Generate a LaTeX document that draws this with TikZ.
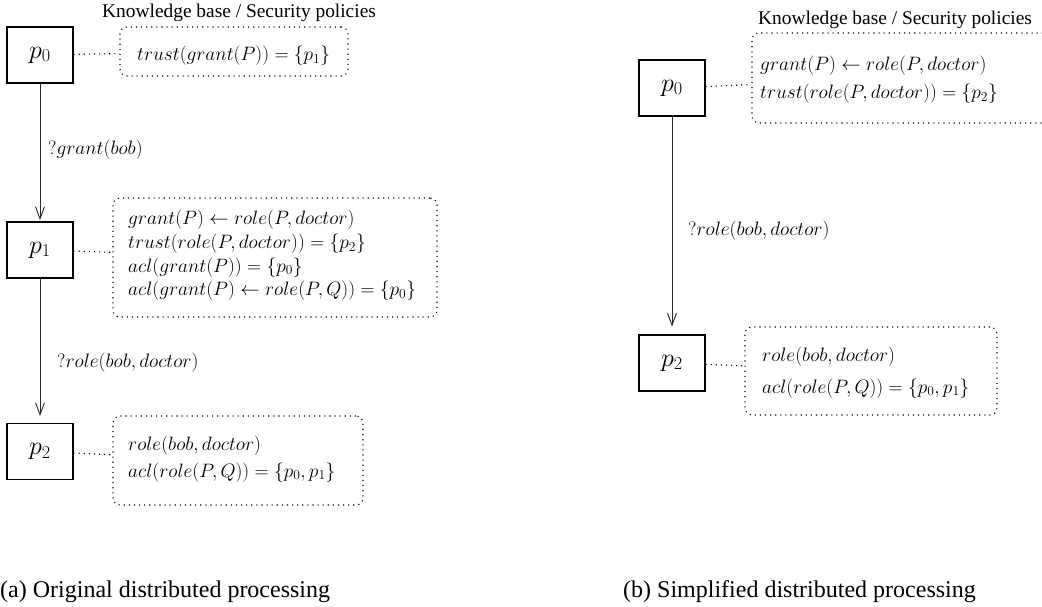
\RequirePackage{fix-cm}
\documentclass[tikz,border=0pt]{standalone}
\usepackage{fontspec}
\newfontfamily\tnr{Liberation Serif}
\usetikzlibrary{arrows.meta}
\begin{document}
\begin{tikzpicture}[x=1pt,y=-1pt,
  proc/.style={draw, line width=1.1pt, minimum width=66pt, minimum height=56pt, inner sep=0pt, font=\fontsize{26}{30}\selectfont},
  kb/.style={draw, dash pattern=on 1.1pt off 4pt, line width=1.1pt, rounded corners=7pt, inner sep=0pt},
  link/.style={dash pattern=on 1.1pt off 4pt, line width=1.1pt},
  flow/.style={-{Straight Barb[length=12pt,width=9pt]}, line width=0.9pt, black!85},
  mtext/.style={anchor=base west, inner sep=0pt, font=\fontsize{19.4}{23}\selectfont},
  ttext/.style={anchor=base west, inner sep=0pt, font=\tnr\fontsize{19.4}{23}\selectfont},
  captext/.style={anchor=base west, inner sep=0pt, font=\tnr\fontsize{24}{28}\selectfont}]
\useasboundingbox (0,0) rectangle (1042,607);
\clip (0,0) rectangle (1042,607);

% ---------------- left panel ----------------
\node[ttext] (kbtitleA) at (102,18) {Knowledge base / Security policies};

\node[proc] (p0a) at (40,55) {$p_0$};
\node[proc] (p1a) at (40,250) {$p_1$};
\node[proc] (p2a) at (40,451.5) {$p_2$};

\node[kb, minimum width=228pt, minimum height=49pt] (k0a) at (234,51.5) {};
\node[kb, minimum width=324pt, minimum height=119pt] (k1a) at (275,257.5) {};
\node[kb, minimum width=250pt, minimum height=89pt] (k2a) at (238,460.5) {};

\node[mtext] (t0a) at (137,61) {$trust(grant(P)) = \{p_1\}$};
\node[mtext] (t1a) at (128,225) {$grant(P) \leftarrow role(P, doctor)$};
\node[mtext] (t2a) at (128,248.5) {$trust(role(P, doctor)) = \{p_2\}$};
\node[mtext] (t3a) at (128,272) {$acl(grant(P)) = \{p_0\}$};
\node[mtext] (t4a) at (128,295.5) {$acl(grant(P) \leftarrow role(P, Q)) = \{p_0\}$};
\node[mtext] (t5a) at (128,450) {$role(bob, doctor)$};
\node[mtext] (t6a) at (128,477) {$acl(role(P, Q)) = \{p_0, p_1\}$};

\draw[link] (p0a) -- (k0a);
\draw[link] (p1a) -- (k1a);
\draw[link] (p2a) -- (k2a);

\draw[flow, shorten >=1.5pt] (p0a.south) -- (p1a.north);
\draw[flow, shorten >=7pt] (p1a.south) -- (p2a.north);

\node[mtext] (q1a) at (48,155) {$?grant(bob)$};
\node[mtext] (q2a) at (57,367) {$?role(bob, doctor)$};

\node[captext] (capA) at (0,597) {(a) Original distributed processing};

% ---------------- right panel ----------------
\node[ttext] (kbtitleB) at (758,25) {Knowledge base / Security policies};

\node[proc] (p0b) at (672,88) {$p_0$};
\node[proc] (p2b) at (672,363) {$p_2$};

\node[kb, minimum width=308pt, minimum height=90pt] (k0b) at (906,78) {};
\node[kb, minimum width=252pt, minimum height=88pt] (k2b) at (871,371) {};

\node[mtext] (t0b) at (760,71) {$grant(P) \leftarrow role(P, doctor)$};
\node[mtext] (t1b) at (760,99) {$trust(role(P, doctor)) = \{p_2\}$};
\node[mtext] (t2b) at (762,361) {$role(bob, doctor)$};
\node[mtext] (t3b) at (762,393) {$acl(role(P, Q)) = \{p_0, p_1\}$};

\draw[link] (p0b) -- (k0b);
\draw[link] (p2b) -- (k2b);

\draw[flow, shorten >=8pt] (p0b.south) -- (p2b.north);
\node[mtext] (q1b) at (688,235) {$?role(bob, doctor)$};

\node[captext] (capB) at (623,597) {(b) Simplified distributed processing};
\end{tikzpicture}
\end{document}
